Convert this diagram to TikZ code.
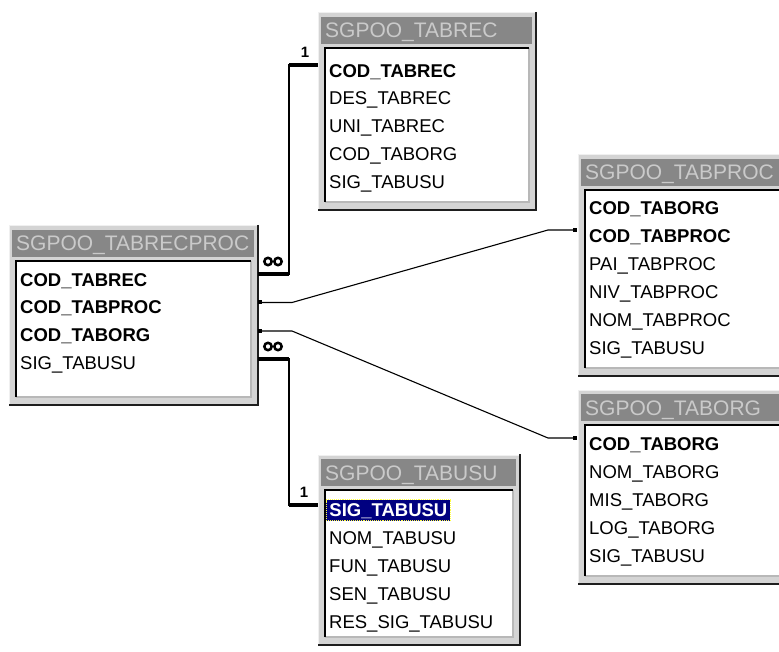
\documentclass[tikz,border=0pt]{standalone}
\usepackage{fontspec}
\setmainfont{Liberation Sans}
\usetikzlibrary{calc}
\definecolor{framegray}{HTML}{D4D4D4}
\definecolor{framelight}{HTML}{F0F0F0}
\definecolor{titlegray}{HTML}{878787}
\definecolor{titletext}{HTML}{CACACA}
\definecolor{shadowdark}{HTML}{1E1E1E}
\definecolor{innerlow}{HTML}{B8B8B8}
\definecolor{navyhl}{HTML}{000080}
\definecolor{focusyel}{HTML}{FFFF40}
\tikzset{
  tframe/.style={fill=framegray, draw=none, inner sep=0pt, outer sep=0pt, anchor=north west},
  tbar/.style={fill=titlegray, draw=none, inner sep=0pt, outer sep=0pt, anchor=north west},
  ttitle/.style={text=titletext, font=\fontsize{21}{23}\selectfont, inner sep=0pt, anchor=west, text height=15pt, text depth=0pt},
  tinner/.style={fill=white, draw=none, inner sep=0pt, outer sep=0pt, anchor=north west},
  rowtext/.style={font=\fontsize{18.5}{20}\selectfont, inner sep=0pt, anchor=west, text height=13pt, text depth=0pt},
  keyrow/.style={rowtext, font=\fontsize{18.5}{20}\selectfont\bfseries},
  hlrow/.style={keyrow, fill=navyhl, text=white, draw=focusyel, densely dotted, line width=0.9pt, inner xsep=3pt, inner ysep=4pt},
  shadowline/.style={draw=shadowdark, line width=2.6pt},
  hiline/.style={draw=framelight, line width=1pt},
  innerdark/.style={draw=black, line width=2pt},
  innerlight/.style={draw=innerlow, line width=1.5pt},
  relline/.style={draw=black, line width=1.4pt},
  relbar/.style={draw=black, line width=4pt},
  linkline/.style={draw=black, line width=1.1pt},
  infsym/.style={draw=black, line width=2.5pt},
  onelab/.style={font=\fontsize{15}{16}\selectfont\bfseries, inner sep=0pt},
  enddot/.style={fill=black, draw=none, minimum size=4pt, inner sep=0pt, rectangle},
}
% #1 name, #2 x0, #3 y0, #4 x1, #5 y1, #6 title
\newcommand{\erdbox}[6]{%
  \node[tframe, minimum width={#4-#2}, minimum height={#5-#3}] (#1) at (#2,#3) {};
  \draw[hiline] (#1.south west) -- (#1.north west) -- (#1.north east);
  \draw[shadowline] ([yshift=1pt]#1.north east) -- (#1.south east) -- (#1.south west);
  \node[tbar, minimum width={#4-#2-7}, minimum height=27pt] (#1bar) at (#2+3,#3+4) {};
  \node[ttitle] (#1title) at ([xshift=4pt]#1bar.west) {#6};
  \node[tinner, minimum width={#4-#2-14}, minimum height={#5-#3-43}] (#1in) at (#2+7,#3+35) {};
  \draw[innerlight] (#1in.south west) -- (#1in.south east) -- (#1in.north east);
  \draw[innerdark] (#1in.south west) -- (#1in.north west) -- (#1in.north east);
}
\begin{document}
\begin{tikzpicture}[x=1pt, y=-1pt]
\useasboundingbox (0,0) rectangle (779,652);
\clip (0,0) rectangle (779,652);
\fill[white] (0,0) rectangle (779,652);

% SGPOO_TABRECPROC
\erdbox{trp}{9}{226}{258}{405}{SGPOO\_TABRECPROC}
\node[keyrow] (rp1) at (20,280) {COD\_TABREC};
\node[keyrow] (rp2) at (20,307.5) {COD\_TABPROC};
\node[keyrow] (rp3) at (20,335) {COD\_TABORG};
\node[rowtext] (rp4) at (20,363) {SIG\_TABUSU};

% SGPOO_TABREC
\erdbox{tr}{318}{13}{536}{210}{SGPOO\_TABREC}
\node[keyrow] (tr1) at (329,71) {COD\_TABREC};
\node[rowtext] (tr2) at (329,98.5) {DES\_TABREC};
\node[rowtext] (tr3) at (329,126) {UNI\_TABREC};
\node[rowtext] (tr4) at (329,154) {COD\_TABORG};
\node[rowtext] (tr5) at (329,182) {SIG\_TABUSU};

% SGPOO_TABPROC
\erdbox{tp}{578}{155}{792}{376}{SGPOO\_TABPROC}
\node[keyrow] (tp1) at (589,208) {COD\_TABORG};
\node[keyrow] (tp2) at (589,236) {COD\_TABPROC};
\node[rowtext] (tp3) at (589,264) {PAI\_TABPROC};
\node[rowtext] (tp4) at (589,292) {NIV\_TABPROC};
\node[rowtext] (tp5) at (589,320) {NOM\_TABPROC};
\node[rowtext] (tp6) at (589,348) {SIG\_TABUSU};

% SGPOO_TABORG
\erdbox{to}{578}{390}{792}{584}{SGPOO\_TABORG}
\node[keyrow] (to1) at (589,444) {COD\_TABORG};
\node[rowtext] (to2) at (589,472) {NOM\_TABORG};
\node[rowtext] (to3) at (589,500) {MIS\_TABORG};
\node[rowtext] (to4) at (589,528) {LOG\_TABORG};
\node[rowtext] (to5) at (589,556) {SIG\_TABUSU};

% SGPOO_TABUSU
\erdbox{tu}{318}{455}{520}{645}{SGPOO\_TABUSU}
\node[hlrow] (tu1) at (326,510) {SIG\_TABUSU};
\node[rowtext] (tu2) at (329,538) {NOM\_TABUSU};
\node[rowtext] (tu3) at (329,566) {FUN\_TABUSU};
\node[rowtext] (tu4) at (329,594) {SEN\_TABUSU};
\node[rowtext] (tu5) at (329,622) {RES\_SIG\_TABUSU};

% relation TABRECPROC -- TABREC
\coordinate (ra1) at ([yshift=6pt]trp.east |- rp1.west);
\coordinate (ra2) at ([yshift=6pt]tr.west |- tr1.west);
\draw[relline] (ra1) -- ++(31,0) |- (ra2);
\draw[relbar] (ra1) -- ++(31,0);
\draw[relbar] (ra2) -- ++(-29,0);
\draw[infsym] ([shift={(10pt,12.5pt)}]ra1) circle (3.7pt) ([shift={(20pt,12.5pt)}]ra1) circle (3.7pt);
\node[onelab] (one1) at ([shift={(-13pt,13pt)}]ra2) {1};

% relation TABRECPROC -- TABUSU
\coordinate (rb1) at ([yshift=4pt]trp.east |- rp4.west);
\coordinate (rb2) at ([yshift=5pt]tu.west |- tu1.west);
\draw[relline] (rb1) -- ++(31,0) |- (rb2);
\draw[relbar] (rb1) -- ++(31,0);
\draw[relbar] (rb2) -- ++(-29,0);
\draw[infsym] ([shift={(10pt,12.5pt)}]rb1) circle (3.7pt) ([shift={(20pt,12.5pt)}]rb1) circle (3.7pt);
\node[onelab] (one2) at ([shift={(-14pt,13pt)}]rb2) {1};

% relation TABRECPROC -- TABPROC
\coordinate (rc1) at ([yshift=5pt]trp.east |- rp2.west);
\coordinate (rc2) at ([shift={(-3pt,6pt)}]tp.west |- tp2.west);
\draw[linkline] (rc1) -- ++(34,0) -- ($(rc2)+(-27,0)$) -- (rc2);
\node[enddot] (dc1) at ([xshift=1.5pt]rc1) {};
\node[enddot] (dc2) at (rc2) {};

% relation TABRECPROC -- TABORG
\coordinate (rd1) at ([yshift=4pt]trp.east |- rp3.west);
\coordinate (rd2) at ([shift={(-3pt,6pt)}]to.west |- to1.west);
\draw[linkline] (rd1) -- ++(34,0) -- ($(rd2)+(-27,0)$) -- (rd2);
\node[enddot] (dd1) at ([xshift=1.5pt]rd1) {};
\node[enddot] (dd2) at (rd2) {};
\end{tikzpicture}
\end{document}
